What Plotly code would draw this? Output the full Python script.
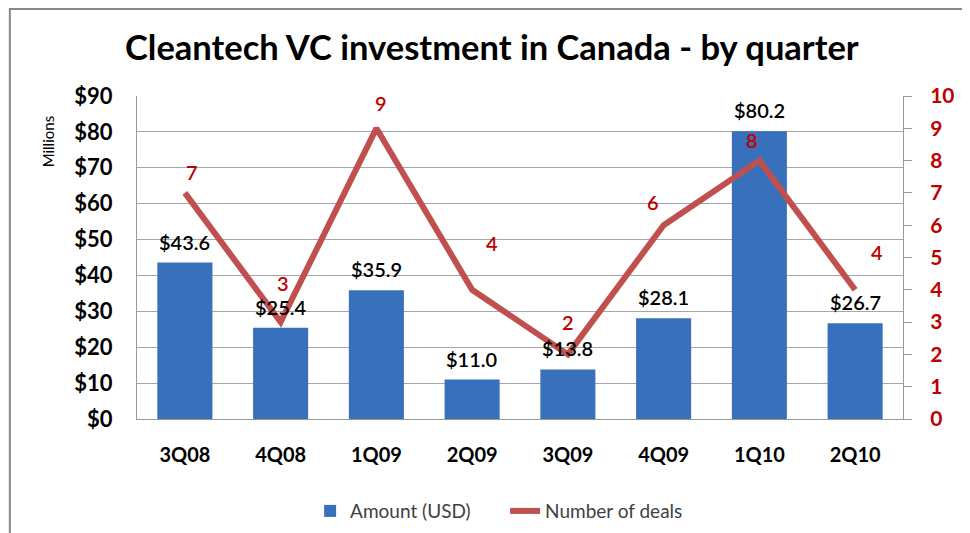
import plotly.graph_objects as go

quarters = ["3Q08", "4Q08", "1Q09", "2Q09", "3Q09", "4Q09", "1Q10", "2Q10"]
amount_musd = [43.6, 25.4, 35.9, 11.0, 13.8, 28.1, 80.2, 26.7]
deals = [7, 3, 9, 4, 2, 6, 8, 4]
amount_ticks = [0, 10, 20, 30, 40, 50, 60, 70, 80, 90]
deal_ticks = list(range(0, 11))

# label offsets (style only), in pixels
deal_label_dx = [7, 2, 5, 20, 0, -11, -7, 22]
deal_label_dy = [21, 39, 25, 47, 32, 23, 21, 38]

FONT = "Lato, 'Open Sans', sans-serif"
RED = "#C00000"

fig = go.Figure()
fig.add_trace(go.Bar(
    x=quarters, y=amount_musd, name="Amount (USD)",
    marker=dict(color="#3870BB", line=dict(width=0)),
    width=0.575, yaxis="y",
))
fig.add_trace(go.Scatter(
    x=quarters, y=deals, name="Number of deals", mode="lines",
    line=dict(color="#C0504D", width=6), yaxis="y2",
))

annotations = []
for q, v in zip(quarters, amount_musd):
    annotations.append(dict(
        x=q, y=v, xref="x", yref="y", text=f"${v:.1f}", showarrow=False,
        yanchor="bottom", yshift=7,
        font=dict(family=FONT, size=20, color="#000000", weight=600),
    ))
for q, d, dx, dy in zip(quarters, deals, deal_label_dx, deal_label_dy):
    annotations.append(dict(
        x=q, y=d, xref="x", yref="y2", text=str(d), showarrow=False,
        yanchor="middle", xshift=dx, yshift=dy,
        font=dict(family=FONT, size=20, color=RED, weight=600),
    ))
annotations.append(dict(
    x=-0.116, y=0.857, xref="paper", yref="paper", text="Millions",
    showarrow=False, textangle=-90, xanchor="center", yanchor="middle",
    font=dict(family=FONT, size=15, color="#000000"),
))

fig.update_layout(
    width=962, height=525,
    margin=dict(l=129, r=67, t=88, b=114, autoexpand=False),
    paper_bgcolor="white", plot_bgcolor="white",
    title=dict(text="<b>Cleantech VC investment in Canada - by quarter</b>",
               x=0.503, xanchor="center", y=0.924, yanchor="middle",
               font=dict(family=FONT, size=34.5, color="#000000")),
    xaxis=dict(
        tickfont=dict(family=FONT, size=20, color="#000000"),
        tickprefix="<b>", ticksuffix="</b>",
        showline=True, linecolor="#999999", linewidth=1,
        showgrid=False, ticks="", ticklabelstandoff=18,
        automargin=False,
    ),
    yaxis=dict(
        range=[0, 90], tickvals=amount_ticks,
        ticktext=[f"<b>${t}</b>" for t in amount_ticks],
        tickfont=dict(family=FONT, size=22, color="#000000"),
        showgrid=True, gridcolor="#A6A6A6", gridwidth=1,
        showline=True, linecolor="#999999", linewidth=1,
        ticks="", ticklabelstandoff=19, zeroline=False,
        automargin=False,
    ),
    yaxis2=dict(
        range=[0, 10], tickvals=deal_ticks,
        ticktext=[f"<b>{t}</b>" for t in deal_ticks],
        tickfont=dict(family=FONT, size=21, color=RED),
        overlaying="y", side="right", showgrid=False,
        showline=True, linecolor="#999999", linewidth=1,
        ticks="outside", ticklen=8, tickcolor="#999999",
        ticklabelstandoff=14, zeroline=False, automargin=False,
    ),
    showlegend=True,
    legend=dict(orientation="h", x=0.226, xanchor="left",
                y=-0.285, yanchor="middle", entrywidth=150,
                font=dict(family=FONT, size=19, color="#404040"),
                bgcolor="rgba(0,0,0,0)"),
    annotations=annotations,
    shapes=[dict(type="rect", xref="paper", yref="paper",
                 x0=-0.166, x1=1.12, y0=-0.4, y1=1.269,
                 line=dict(color="#888888", width=2), layer="below")],
    bargap=0.4,
)

fig.write_html("out.html")
